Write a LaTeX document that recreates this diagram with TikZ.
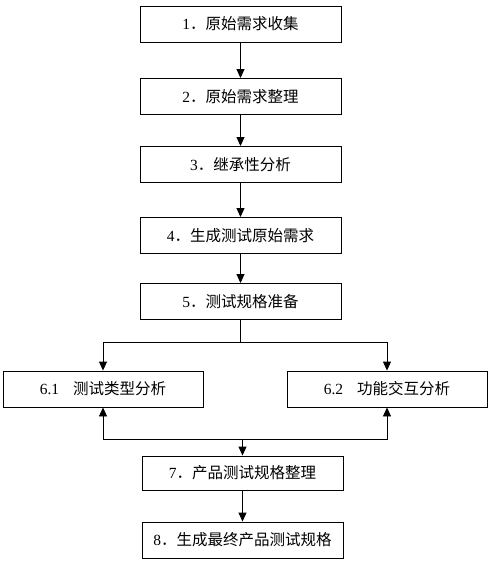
\documentclass[tikz,border=0pt]{standalone}
\usepackage{fontspec}
\setmainfont{Liberation Serif}
\newfontfamily\cjk{Noto Sans CJK SC}
\usetikzlibrary{arrows.meta}
\begin{document}
\begin{tikzpicture} [x = 1pt, y = -1pt, line width = 0.9pt,
	stepbox/.style = {draw, minimum width = 201pt, minimum height = 36pt, inner sep = 0pt, font = \fontsize{15.5}{17}\selectfont},
	flow/.style = {-{Triangle[length = 9pt, width = 8pt]}}]
	\useasboundingbox (0,0) rectangle (492,563);
	% main chain
	\node [stepbox] (s1) at (240.5,24) {1{\cjk ．原始需求收集}};
	\node [stepbox] (s2) at (240.5,96.5) {2{\cjk ．原始需求整理}};
	\node [stepbox] (s3) at (240.5,164.5) {3{\cjk ．继承性分析}};
	\node [stepbox] (s4) at (240.5,235.5) {4{\cjk ．生成测试原始需求}};
	\node [stepbox] (s5) at (240.5,301.5) {5{\cjk ．测试规格准备}};
	% parallel pair
	\node [stepbox, minimum width = 200pt] (s61) at (103,389) {6.1\hspace{14pt}{\cjk 测试类型分析}};
	\node [stepbox, minimum width = 200pt] (s62) at (387,389) {6.2\hspace{14pt}{\cjk 功能交互分析}};
	\node [stepbox, minimum height = 34pt] (s7) at (242.5,473) {7{\cjk ．产品测试规格整理}};
	\node [stepbox] (s8) at (242.5,540) {8{\cjk ．生成最终产品测试规格}};
	\draw [flow] (s1) -- (s2);
	\draw [flow] (s2) -- (s3);
	\draw [flow] (s3) -- (s4);
	\draw [flow] (s4) -- (s5);
	% split
	\coordinate (split) at (240.5,342);
	\draw (s5) -- (split);
	\draw [flow] (split) -| (s61);
	\draw [flow] (split) -| (s62);
	% join
	\coordinate (join) at (242.5,439);
	\draw [flow] (join) -| (s61);
	\draw [flow] (join) -| (s62);
	\draw [flow] (join) -- (s7);
	\draw [flow] (s7) -- (s8);
\end{tikzpicture}
\end{document}
